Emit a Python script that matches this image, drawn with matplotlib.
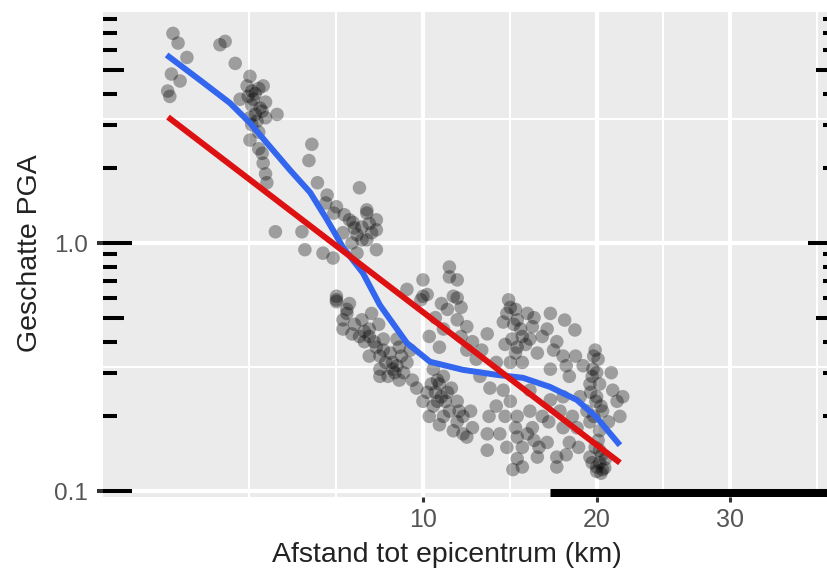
import numpy as np
import matplotlib
matplotlib.use('Agg')
import matplotlib.pyplot as plt
from matplotlib.ticker import FixedLocator, NullFormatter

plt.rcParams['font.family'] = ['Liberation Sans', 'DejaVu Sans']

afstand = [
    1.63, 1.73, 2.79, 2.66, 1.91, 3.05, 1.77, 1.53, 1.57, 3.45, 3.37, 3.83, 3.18, 3.54,
    3.74, 4.25, 3.45, 3.65, 3.45, 3.83, 3.94, 5.4, 5.3, 5.6, 5.95, 7.2, 6.2, 6.8, 7.5,
    7.3, 7.9, 6.55, 7.3, 7.9, 4.2, 5.06, 5.16, 5.8, 6.17, 6.3, 7.1, 7.5, 6.94, 7.9, 7.5,
    3.6, 3.5, 3.9, 3.7, 1.6,
    3.5, 3.7, 3.4, 3.6, 3.8, 3.5, 3.9, 3.7, 3.8, 3.9,
    5.9, 6.3, 6.6, 7.0, 7.6, 7.1, 6.9, 7.7,
    6.3, 6.7, 6.55, 7.6, 8.2, 8.6, 8.05, 8.9, 9.25, 10.0, 11.3, 11.7, 11.5, 6.3, 6.7,
    6.55, 6.9, 7.3, 7.6, 7.8, 8.05, 8.5, 8.8, 8.4, 9.5, 9.25, 9.9, 10.2, 11.3, 11.7,
    11.2, 11.7, 12.2, 10.3, 10.8, 12.2, 12.7, 10.7, 11.2, 10.7, 11.0, 11.7, 12.2, 10.0,
    10.3, 10.2, 11.7, 12.4, 13.4, 13.3, 13.3, 9.4, 8.8, 8.2, 7.2, 7.6, 8.05, 8.6, 9.7,
    10.0, 10.5, 10.8, 11.1, 11.3, 10.6, 12.0, 12.9, 13.45,
    7.0, 7.4, 7.9, 8.3, 8.7, 9.0, 7.7, 8.0, 6.8, 9.1, 8.9, 7.4,
    10.5, 10.9, 11.4, 11.8, 10.4, 11.0, 12.0, 11.5, 10.8, 12.5,
    10.6, 11.0, 11.9, 12.5, 13.0, 10.9, 11.9,
    14.2, 14.6, 15.0, 15.6, 15.9, 15.75, 15.0, 16.2, 16.5, 17.4, 17.8, 17.0, 18.2, 19.1,
    19.75, 19.55, 20.0, 20.4, 21.4, 21.6, 19.35, 14.6, 15.0, 15.75, 16.5, 15.9, 15.0,
    14.4, 15.3, 14.75, 15.3, 16.8, 17.4, 17.4, 18.2, 19.55, 20.0, 20.4, 20.2, 13.3, 14.0,
    16.2, 17.8, 18.7, 18.9, 17.8, 17.0, 15.75, 14.2, 13.8, 14.6, 15.3, 21.1, 21.8, 19.9,
    20.1, 19.7, 20.2, 19.95, 19.55, 20.1, 20.35, 20.2, 20.55, 20.0, 14.5, 14.9, 15.2,
    14.7, 14.3, 17.0, 18.56, 17.9,
    14.4, 14.8, 15.3, 14.9, 15.5, 16.0, 16.8, 17.2, 18.0, 18.6,
    19.8, 20.0, 19.6, 20.3, 19.8, 20.2, 19.9, 20.6, 20.3, 19.7, 21.0, 20.8,
    14.9, 15.6, 16.3, 16.9, 17.6, 18.4, 15.0, 16.0, 18.0, 18.8, 14.3, 13.8,
]
pga = [
    7.0, 6.4, 6.5, 6.3, 5.6, 5.3, 4.5, 4.1, 3.9, 4.7, 4.3, 4.3, 3.8, 3.8,
    3.5, 3.3, 3.2, 3.1, 2.6, 2.1, 1.75, 2.5, 2.15, 1.75, 1.56, 1.67, 1.32, 1.24, 1.32,
    1.16, 1.24, 1.1, 1.03, 0.94, 1.11, 1.11, 0.94, 0.91, 0.87, 0.61, 0.91, 1.36, 1.21, 1.13, 1.03,
    4.0, 3.6, 3.7, 2.8, 4.8,
    4.1, 4.2, 3.9, 3.3, 3.4, 3.0, 3.2, 2.4, 2.3, 1.9,
    1.45, 1.4, 1.3, 1.15, 1.2, 1.08, 1.0, 1.1,
    0.59, 0.52, 0.45, 0.42, 0.37, 0.33, 0.29, 0.28, 0.65, 0.61, 0.80, 0.71, 0.61, 0.58, 0.54,
    0.49, 0.43, 0.49, 0.45, 0.40, 0.35, 0.36, 0.32, 0.29, 0.28, 0.33, 0.59, 0.62, 0.73, 0.60,
    0.54, 0.49, 0.46, 0.42, 0.38, 0.37, 0.34, 0.28, 0.25, 0.23, 0.20, 0.19, 0.165, 0.23,
    0.20, 0.25, 0.23, 0.21, 0.20, 0.17, 0.43, 0.37, 0.41, 0.41, 0.42, 0.35, 0.31, 0.31, 0.26,
    0.71, 0.31, 0.27, 0.23, 0.21, 0.25, 0.17, 0.29, 0.26,
    0.47, 0.44, 0.38, 0.33, 0.30, 0.35, 0.52, 0.47, 0.57, 0.30, 0.38, 0.40,
    0.22, 0.24, 0.26, 0.21, 0.27, 0.29, 0.20, 0.175, 0.185, 0.18,
    0.50, 0.45, 0.42, 0.40, 0.37, 0.57, 0.55,
    0.48, 0.55, 0.49, 0.52, 0.46, 0.41, 0.38, 0.36, 0.42, 0.40, 0.35, 0.31, 0.29, 0.32,
    0.31, 0.27, 0.24, 0.21, 0.23, 0.20, 0.21, 0.23, 0.20, 0.21, 0.20, 0.18, 0.165,
    0.15, 0.15, 0.122, 0.125, 0.157, 0.137, 0.125, 0.157, 0.137, 0.125, 0.122, 0.146, 0.146, 0.17,
    0.137, 0.18, 0.18, 0.24, 0.24, 0.233, 0.255, 0.255, 0.33, 0.33, 0.33, 0.255, 0.24, 0.37,
    0.34, 0.29, 0.27, 0.23, 0.19, 0.16, 0.14, 0.13, 0.124, 0.12, 0.59, 0.54, 0.45,
    0.41, 0.39, 0.52, 0.446, 0.489,
    0.52, 0.47, 0.42, 0.36, 0.39, 0.50, 0.45, 0.37, 0.32, 0.35,
    0.35, 0.30, 0.25, 0.22, 0.20, 0.175, 0.15, 0.135, 0.118, 0.13, 0.30, 0.19,
    0.18, 0.17, 0.15, 0.19, 0.21, 0.20, 0.135, 0.16, 0.14, 0.15, 0.20, 0.22,
]

# loess-curve (blauw) en lineaire fit (rood)
loess_x = [1.51, 2.19, 2.91, 3.45, 3.94, 4.66, 5.34, 5.95, 6.55, 7.34, 8.05, 9.25,
           10.34, 12.0, 13.84, 15.34, 16.97, 18.69, 20.0, 21.6]
loess_y = [5.73, 4.54, 3.67, 3.05, 2.53, 1.97, 1.60, 1.24, 0.96, 0.757, 0.562, 0.395,
           0.332, 0.308, 0.294, 0.286, 0.263, 0.233, 0.198, 0.153]
fit_x = [1.535, 21.6]
fit_y = [3.22, 0.130]

x_breaks = [10, 20, 30]
x_minor = [3.43, 6.29, 14.57, 24.75, 37.6]
y_breaks = [0.1, 1.0]
y_labels = ['0.1', '1.0']
y_minor = [0.316, 3.16]
rug_start = 17.0

# logticks: 1..9 per decade
logticks = [m * d for d in [0.1, 1.0] for m in range(1, 10)]

W, H = 827, 575
fig = plt.figure(figsize=(W / 100, H / 100), dpi=100)
ax = fig.add_axes([103 / W, 78 / H, 734 / W, 485 / H])
ax.set_facecolor('#ebebeb')
for s in ax.spines.values():
    s.set_visible(False)

ax.set_xscale('function', functions=(lambda v: np.sqrt(np.clip(v, 0, None)), lambda v: v ** 2))
ax.set_yscale('log')
ax.set_xlim(0.561, 39.5)
ax.set_ylim(0.0946, 8.54)

ax.xaxis.set_major_locator(FixedLocator(x_breaks))
ax.xaxis.set_minor_locator(FixedLocator(x_minor))
ax.set_xticklabels([str(b) for b in x_breaks])
ax.xaxis.set_minor_formatter(NullFormatter())
ax.yaxis.set_major_locator(FixedLocator(y_breaks))
ax.yaxis.set_minor_locator(FixedLocator(y_minor))
ax.set_yticklabels(y_labels)
ax.yaxis.set_minor_formatter(NullFormatter())

ax.set_axisbelow(True)
ax.grid(which='major', color='white', lw=3.0)
ax.grid(which='minor', color='white', lw=1.5)
ax.tick_params(which='minor', length=0)
ax.tick_params(axis='x', which='major', direction='out', length=3.6, width=2.2,
               color='#333333', labelsize=18, labelcolor='#555555', pad=4)
ax.tick_params(axis='y', which='major', direction='out', length=4.3, width=2.9,
               color='#333333', labelsize=17.5, labelcolor='#555555', pad=6.5)

ax.scatter(afstand, pga, s=95, color='black', alpha=0.33, edgecolors='none', zorder=2)
ax.plot(loess_x, loess_y, color='#3366ee', lw=4.3, solid_capstyle='butt', zorder=3)
ax.plot(fit_x, fit_y, color='#dd1111', lw=4.3, solid_capstyle='butt', zorder=4)

# logticks links en rechts, in het paneel
ytrans = ax.get_yaxis_transform()
for v in logticks:
    lead = round(v / 10 ** np.floor(np.log10(v) + 1e-9))
    if lead == 1:
        L = 29 / 734
    elif lead == 5:
        L = 21 / 734
    else:
        L = 14 / 734
    ax.plot([0, L], [v, v], transform=ytrans, color='black', lw=2.9,
            solid_capstyle='butt', zorder=5)
    ax.plot([1 - L, 1], [v, v], transform=ytrans, color='black', lw=2.9,
            solid_capstyle='butt', zorder=5)

# dichte logticks onderaan
ax.hlines(4.5 / 485, rug_start, 39.5, transform=ax.get_xaxis_transform(),
          color='black', lw=6.5, zorder=5)

fig.text(447 / W, (H - 562) / H, 'Afstand tot epicentrum (km)', ha='center',
         va='baseline', fontsize=20.5, color='#222222')
fig.text(37 / W, (H - 253) / H, 'Geschatte PGA', rotation=90, rotation_mode='anchor',
         ha='center', va='baseline', fontsize=20.5, color='#222222')

fig.savefig('out.png', dpi=100)
